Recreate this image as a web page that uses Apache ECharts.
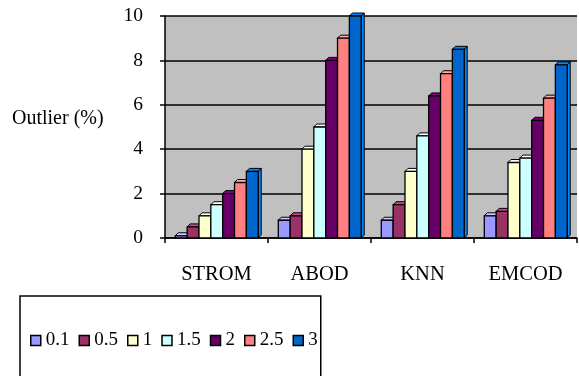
<!DOCTYPE html>
<html>
<head>
<meta charset="utf-8">
<script src="https://cdn.jsdelivr.net/npm/echarts@6/dist/echarts.min.js"></script>
<style>
  html, body { margin: 0; padding: 0; background: #fff; }
  #main { width: 579px; height: 376px; }
</style>
</head>
<body>
<div id="main"></div>
<script>
const categories = ["STROM", "ABOD", "KNN", "EMCOD"];
const seriesNames = ["0.1", "0.5", "1", "1.5", "2", "2.5", "3"];
const v01 = [0.1, 0.8, 0.8, 1.0];
const v05 = [0.5, 1.0, 1.5, 1.2];
const v1 = [1.0, 4.0, 3.0, 3.4];
const v15 = [1.5, 5.0, 4.6, 3.6];
const v2 = [2.0, 8.0, 6.4, 5.3];
const v25 = [2.5, 9.0, 7.4, 6.3];
const v3 = [3.0, 10.0, 8.5, 7.8];
const yTicks = [0, 2, 4, 6, 8, 10];

const seriesValues = [v01, v05, v1, v15, v2, v25, v3];
const colors = ["#9999FF", "#993366", "#FFFFCC", "#CCFFFF", "#660066", "#FF8080", "#0066CC"];
const font = "'Liberation Serif', 'Times New Roman', serif";

// 3d-looking bar: front face + top + right side
function makeRender(k) {
  return function (params, api) {
    const ci = api.value(0);
    const v = api.value(1);
    const base = api.coord([ci, 0]);
    const top = api.coord([ci, v]);
    const cw = api.size([1, 0])[0];
    const bw = cw * 0.115;
    const x = base[0] - cw / 2 + cw * 0.1 + k * bw;
    const d = 3;
    const c = colors[k];
    const dark = echarts.color.lift(c, -0.35);
    return {
      type: "group",
      children: [
        {
          type: "polygon",
          shape: { points: [[x + bw, top[1]], [x + bw + d, top[1] - d], [x + bw + d, base[1] - d], [x + bw, base[1]]] },
          style: { fill: dark, stroke: "#000", lineWidth: 1 },
        },
        {
          type: "polygon",
          shape: { points: [[x, top[1]], [x + d, top[1] - d], [x + bw + d, top[1] - d], [x + bw, top[1]]] },
          style: { fill: dark, stroke: "#000", lineWidth: 1 },
        },
        {
          type: "rect",
          shape: { x: x, y: top[1], width: bw, height: base[1] - top[1] },
          style: { fill: c, stroke: "#000", lineWidth: 1.3 },
        },
      ],
    };
  };
}

const myChart = echarts.init(document.getElementById("main"));
let option = {
  animation: false,
  color: colors,
  graphic: [
    {
      type: "text",
      left: 12,
      top: 109,
      style: { text: "Outlier (%)", font: "20px " + font, fill: "#000" },
    },
  ],
  legend: {
    data: seriesNames,
    left: 20,
    top: 296,
    orient: "horizontal",
    icon: "rect",
    itemWidth: 10,
    itemHeight: 10,
    itemGap: 9,
    padding: [35, 3, 60, 10],
    borderColor: "#000",
    borderWidth: 1.5,
    itemStyle: { borderColor: "#000", borderWidth: 1.5 },
    textStyle: { fontFamily: font, fontSize: 19, color: "#000" },
  },
  grid: {
    left: 165,
    right: 2,
    top: 16,
    bottom: 138,
    show: true,
    backgroundColor: "#C0C0C0",
    borderWidth: 0,
  },
  xAxis: {
    type: "category",
    data: categories,
    axisLine: { lineStyle: { color: "#000", width: 1.5 } },
    axisTick: { show: true, length: 5, lineStyle: { color: "#000", width: 1.5 } },
    axisLabel: { fontFamily: font, fontSize: 20.5, color: "#000", margin: 26 },
  },
  yAxis: {
    type: "value",
    min: yTicks[0],
    max: yTicks[yTicks.length - 1],
    interval: 2,
    axisLine: { show: true, lineStyle: { color: "#000", width: 1.5 } },
    axisTick: { show: true, length: 5, lineStyle: { color: "#000", width: 1.5 } },
    axisLabel: { fontFamily: font, fontSize: 19.5, color: "#000", margin: 22 },
    splitLine: { show: true, lineStyle: { color: "#000", width: 1.5 } },
  },
  series: seriesNames.map((name, k) => ({
    name: name,
    type: "custom",
    renderItem: makeRender(k),
    itemStyle: { color: colors[k] },
    encode: { x: 0, y: 1 },
    data: seriesValues[k].map((v, i) => [i, v]),
  })),
};
myChart.setOption(option);
</script>
</body>
</html>
